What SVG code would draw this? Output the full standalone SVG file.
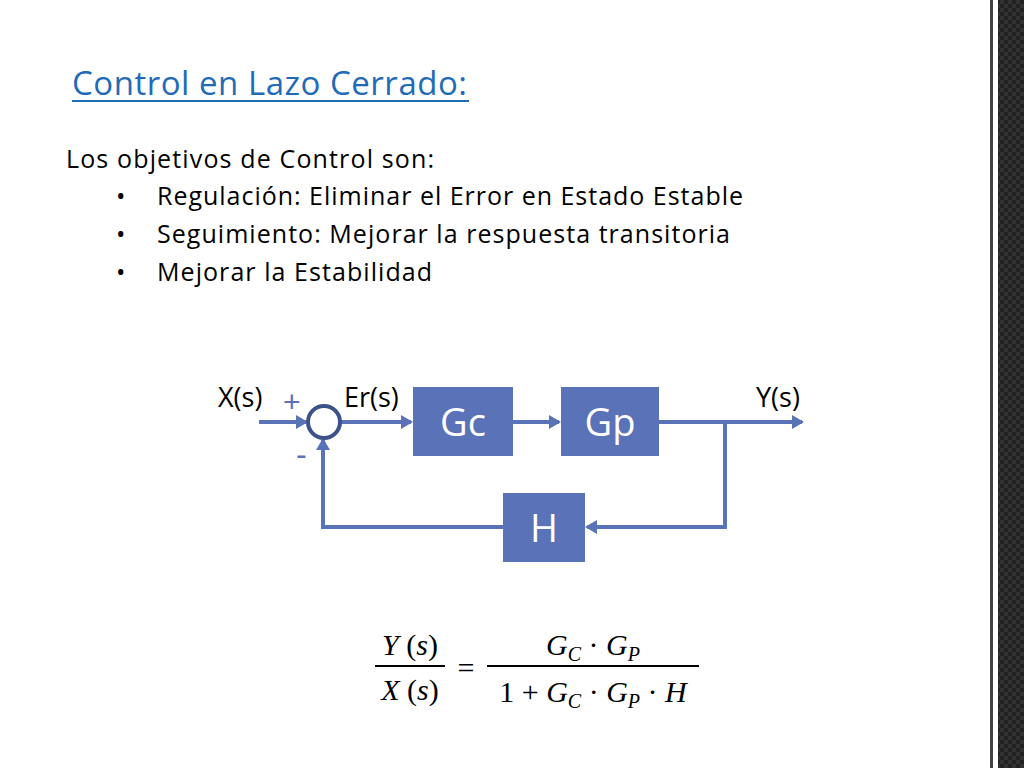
<svg xmlns="http://www.w3.org/2000/svg" width="1024" height="768" viewBox="0 0 1024 768">
<defs>
<style>
.t{font-family:"Open Sans","Liberation Sans",sans-serif;fill:#000}
.b{fill:#5a72b7}
.bl{fill:#fff;font-family:"Open Sans","Liberation Sans",sans-serif;font-size:38px;text-anchor:middle}
.c{stroke:#5a72b7;stroke-width:4;fill:none}
.m{font-family:"Liberation Serif",serif;font-style:italic;font-size:30px}
.n{font-family:"Liberation Serif",serif;font-size:30px}
</style>
<marker id="a" markerWidth="12" markerHeight="14" refX="10" refY="7" orient="auto" markerUnits="userSpaceOnUse" viewBox="0 0 12 14"><path d="M0,0L12,7L0,14z" fill="#5a72b7"/></marker>
<pattern id="cf" width="8" height="8" patternUnits="userSpaceOnUse"><rect width="8" height="8" fill="#222"/><rect width="4" height="4" fill="#303030"/><rect x="4" y="4" width="4" height="4" fill="#303030"/></pattern>
</defs>
<rect width="1024" height="768" fill="#fff"/>
<rect x="990" y="0" width="3" height="768" fill="#444"/>
<rect x="998" y="0" width="26" height="768" fill="url(#cf)"/>
<text x="72" y="95" font-size="33" fill="#1f6bb8" font-family="Open Sans,Liberation Sans,sans-serif" textLength="395" lengthAdjust="spacing">Control en Lazo Cerrado:</text>
<rect x="72" y="100" width="397" height="2" fill="#1f6bb8"/>
<g class="t" font-size="25">
<text x="66" y="168" textLength="368" lengthAdjust="spacing">Los objetivos de Control son:</text>
<text x="116" y="205">•</text><text x="157" y="205" textLength="586" lengthAdjust="spacing">Regulación: Eliminar el Error en Estado Estable</text>
<text x="116" y="243">•</text><text x="157" y="243" textLength="573" lengthAdjust="spacing">Seguimiento: Mejorar la respuesta transitoria</text>
<text x="116" y="281">•</text><text x="157" y="281" textLength="275" lengthAdjust="spacing">Mejorar la Estabilidad</text>
</g>
<g id="connectors">
<path class="c" d="M259,422H306" marker-end="url(#a)"/>
<path class="c" d="M340,422H411" marker-end="url(#a)"/>
<path class="c" d="M513,422H559" marker-end="url(#a)"/>
<path class="c" d="M659,422H802" marker-end="url(#a)"/>
<path class="c" d="M725,422V527H587" marker-end="url(#a)"/>
<path class="c" d="M503,527H323V440" marker-end="url(#a)"/>
</g>
<g id="sum"><circle cx="324" cy="422" r="16" fill="none" stroke="#3d5289" stroke-width="4"/></g>
<g id="Gc"><rect class="b" x="413" y="387" width="100" height="69"/><text class="bl" x="463" y="436">Gc</text></g>
<g id="Gp"><rect class="b" x="561" y="387" width="98" height="69"/><text class="bl" x="610" y="436">Gp</text></g>
<g id="H"><rect class="b" x="503" y="493" width="82" height="69"/><text class="bl" x="544" y="542">H</text></g>
<g class="t" font-size="27">
<text x="218" y="407">X(s)</text>
<text x="344" y="407">Er(s)</text>
<text x="756" y="407">Y(s)</text>
</g>
<text x="283" y="412" font-size="30" fill="#5a72b7" font-family="Liberation Sans,sans-serif">+</text>
<text x="296" y="465" font-size="32" fill="#5a72b7" font-family="Liberation Sans,sans-serif">-</text>
<g id="formula">
<text class="m" x="410" y="655" text-anchor="middle">Y<tspan font-style="normal"> (</tspan>s<tspan font-style="normal">)</tspan></text>
<rect x="375" y="665" width="70" height="2"/>
<text class="m" x="410" y="700" text-anchor="middle">X<tspan font-style="normal"> (</tspan>s<tspan font-style="normal">)</tspan></text>
<text class="n" x="466" y="678" text-anchor="middle" font-size="36">=</text>
<text class="m" x="593" y="655" text-anchor="middle">G<tspan font-size="20" dy="6">C</tspan><tspan dy="-6" font-style="normal"> · </tspan>G<tspan font-size="20" dy="6">P</tspan></text>
<rect x="487" y="665" width="212" height="2"/>
<text class="m" x="593" y="702" text-anchor="middle"><tspan font-style="normal">1 + </tspan>G<tspan font-size="20" dy="6">C</tspan><tspan dy="-6" font-style="normal"> · </tspan>G<tspan font-size="20" dy="6">P</tspan><tspan dy="-6" font-style="normal"> · </tspan>H</text>
</g>
</svg>
